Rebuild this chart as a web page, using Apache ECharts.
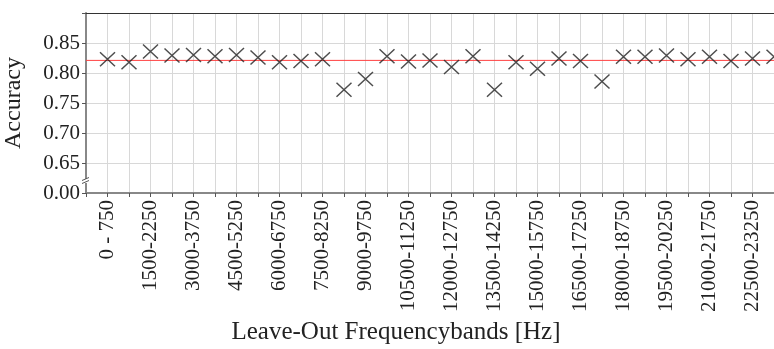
<!DOCTYPE html>
<html>
<head>
<meta charset="utf-8">
<script src="https://cdn.jsdelivr.net/npm/echarts@6/dist/echarts.min.js"></script>
<style>html,body{margin:0;padding:0;background:#fff;}#c{width:774px;height:349px;}</style>
</head>
<body>
<div id="c"></div>
<script>
const categories = ['0 - 750','750-1500','1500-2250','2250-3000','3000-3750','3750-4500','4500-5250','5250-6000','6000-6750','6750-7500','7500-8250','8250-9000','9000-9750','9750-10500','10500-11250','11250-12000','12000-12750','12750-13500','13500-14250','14250-15000','15000-15750','15750-16500','16500-17250','17250-18000','18000-18750','18750-19500','19500-20250','20250-21000','21000-21750','21750-22500','22500-23250','23250-24000'];
const accuracy = [0.823,0.818,0.836,0.829,0.830,0.828,0.830,0.826,0.818,0.820,0.823,0.772,0.790,0.828,0.819,0.821,0.810,0.828,0.772,0.818,0.807,0.824,0.820,0.786,0.827,0.827,0.829,0.823,0.827,0.820,0.824,0.827];
const baseline = 0.821;
const yTickLabels = {'0.60':'0.00','0.65':'0.65','0.70':'0.70','0.75':'0.75','0.80':'0.80','0.85':'0.85'};

const chart = echarts.init(document.getElementById('c'));
const serif = '"Liberation Serif", "Times New Roman", serif';
chart.setOption({
  animation: false,
  grid: {left: 86, top: 13, bottom: 156, right: 0, show: false, outerBoundsMode: 'none', containLabel: false},
  xAxis: [{
    type: 'value', min: -1, max: 31, interval: 1,
    name: 'Leave-Out Frequencybands [Hz]', nameLocation: 'middle', nameGap: 126,
    nameTextStyle: {fontFamily: serif, fontSize: 25, color: '#222', padding: [0, 68, 0, 0]},
    axisLine: {onZero: false, lineStyle: {color: '#888', width: 2}},
    axisTick: {show: true, length: 4, lineStyle: {color: '#555'}, interval: 0},
    splitLine: {show: true, lineStyle: {color: '#d8d8d8', width: 1}},
    axisLabel: {
      rotate: 90, margin: 7, fontFamily: serif, fontSize: 21, color: '#222',
      formatter: v => (v >= 0 && v < categories.length && v % 2 === 0) ? categories[v] : ''
    }
  }, {
    type: 'value', min: -1, max: 31, position: 'top',
    axisLine: {show: true, onZero: false, lineStyle: {color: '#333', width: 1}},
    axisTick: {show: false}, axisLabel: {show: false}, splitLine: {show: false}
  }],
  yAxis: {
    type: 'value', min: 0.6, max: 0.9, interval: 0.05,
    name: 'Accuracy', nameLocation: 'middle', nameGap: 60,
    nameTextStyle: {fontFamily: serif, fontSize: 24, color: '#222'},
    axisLine: {show: true, onZero: false, lineStyle: {color: '#888', width: 2}},
    axisTick: {show: true, length: 4, lineStyle: {color: '#555'}},
    splitLine: {show: true, lineStyle: {color: '#d8d8d8', width: 1}},
    axisLabel: {
      margin: 6, fontFamily: serif, fontSize: 21, color: '#222',
      formatter: v => yTickLabels[v.toFixed(2)] || ''
    }
  },
  series: [{
    type: 'line',
    data: [[-1, baseline], [31, baseline]],
    symbol: 'none', silent: true,
    lineStyle: {color: '#ff4040', width: 1},
    z: 3
  }, {
    type: 'scatter',
    data: accuracy.map((v, i) => [i, v]),
    symbol: 'path://M0,0L10,10M10,0L0,10',
    symbolSize: [15, 14],
    clip: false,
    itemStyle: {color: 'transparent', borderColor: '#222', borderWidth: 1.4},
    z: 5
  }]
});

// axis break mark on the y axis
const p = chart.convertToPixel({gridIndex: 0}, [-1, 0.62]);
chart.setOption({
  graphic: [
    {type: 'rect', shape: {x: p[0] - 3, y: p[1] - 2, width: 6, height: 4}, style: {fill: '#fff'}, z: 100},
    {type: 'line', shape: {x1: p[0] - 4, y1: p[1] - 0.5, x2: p[0] + 3, y2: p[1] - 3.5}, style: {stroke: '#555', lineWidth: 1}, z: 101},
    {type: 'line', shape: {x1: p[0] - 4, y1: p[1] + 2.5, x2: p[0] + 3, y2: p[1] - 0.5}, style: {stroke: '#555', lineWidth: 1}, z: 101}
  ]
});
</script>
</body>
</html>
